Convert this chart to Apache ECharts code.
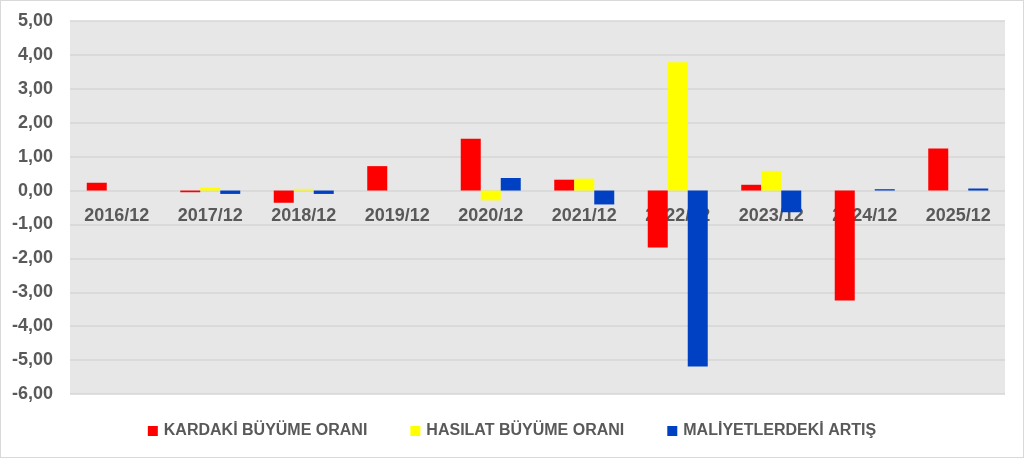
<!DOCTYPE html>
<html>
<head>
<meta charset="utf-8">
<script src="https://cdn.jsdelivr.net/npm/echarts@6/dist/echarts.min.js"></script>
<style>
html,body{margin:0;padding:0;background:#fff;}
#wrap{position:absolute;left:0;top:0;width:1022px;height:456px;border:1px solid #d9d9d9;}
#chart{width:1022px;height:456px;}
</style>
</head>
<body>
<div id="wrap"><div id="chart"></div></div>
<script>
const categories = ['2016/12','2017/12','2018/12','2019/12','2020/12','2021/12','2022/12','2023/12','2024/12','2025/12'];
const karBuyume = [0.23, -0.05, -0.36, 0.72, 1.53, 0.32, -1.68, 0.17, -3.24, 1.24];
const hasilatBuyume = [0, 0.08, 0.05, 0, -0.29, 0.35, 3.78, 0.58, 0, 0];
const maliyetArtis = [0, -0.10, -0.10, 0, 0.37, -0.41, -5.19, -0.64, 0.04, 0.06];
const seriesNames = ['KARDAKİ BÜYÜME ORANI', 'HASILAT BÜYÜME ORANI', 'MALİYETLERDEKİ ARTIŞ'];
const colors = ['#FF0000', '#FFFF00', '#0041C4'];
const yMin = -6, yMax = 5;

const chart = echarts.init(document.getElementById('chart'));
const txt = '#595959';
const gridTop = 20, gridBottom = 63, H = 456;
const plotH = H - gridTop - gridBottom;
const zeroOffset = plotH * (0 - yMin) / (yMax - yMin);
chart.setOption({
  animation: false,
  color: colors,
  grid: {left: 69, right: 18, top: gridTop, bottom: gridBottom, show: true, backgroundColor: '#e7e7e7', borderWidth: 0},
  legend: {
    top: 415, left: 'center',
    itemWidth: 10, itemHeight: 10, itemGap: 43, itemStyle: {borderWidth: 0},
    icon: 'rect',
    textStyle: {color: txt, fontFamily: '"Liberation Sans", Arial, sans-serif', fontWeight: 'bold', fontSize: 16, lineHeight: 20, padding: [0, 0, 0, 1]},
    data: seriesNames
  },
  xAxis: {
    type: 'category',
    data: categories,
    offset: -zeroOffset,
    axisLine: {show: false, onZero: false},
    axisTick: {show: false},
    axisLabel: {color: txt, fontFamily: '"Liberation Sans", Arial, sans-serif', fontWeight: 'bold', fontSize: 18, margin: 16}
  },
  yAxis: {
    type: 'value',
    min: yMin, max: yMax, interval: 1,
    axisLine: {show: false},
    axisTick: {show: false},
    splitLine: {lineStyle: {color: '#d6d6d6', width: 1.5}},
    axisLabel: {
      color: txt, fontFamily: '"Liberation Sans", Arial, sans-serif', fontWeight: 'bold', fontSize: 18, margin: 17,
      formatter: v => v.toFixed(2).replace('.', ',')
    }
  },
  series: [
    {name: seriesNames[0], type: 'bar', data: karBuyume, barWidth: 20, barGap: '0%'},
    {name: seriesNames[1], type: 'bar', data: hasilatBuyume, barWidth: 20, barGap: '0%'},
    {name: seriesNames[2], type: 'bar', data: maliyetArtis, barWidth: 20, barGap: '0%'}
  ]
});
</script>
</body>
</html>
